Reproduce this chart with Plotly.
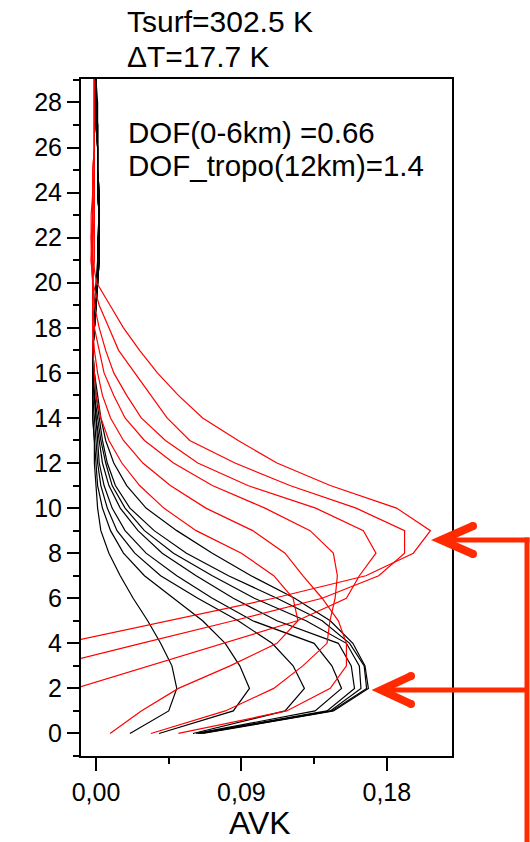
import plotly.graph_objects as go

# ---------------- data ----------------
levels_km = list(range(0, 31))

# black kernels (lower rows)
B1 = [0.021, 0.045, 0.050, 0.047, 0.040, 0.032, 0.023, 0.015, 0.008, 0.003, 0.001, 0.000, -0.001, -0.001, -0.002, -0.002, -0.002, -0.002, -0.001, -0.001, 0.000, 0.001, 0.001, 0.002, 0.002, 0.001, 0.001, 0.001, 0.000, 0.000, 0.000]
B2 = [0.039, 0.085, 0.095, 0.089, 0.080, 0.066, 0.048, 0.030, 0.017, 0.009, 0.004, 0.001, 0.000, -0.001, -0.002, -0.002, -0.002, -0.002, -0.001, 0.000, 0.001, 0.001, 0.002, 0.002, 0.002, 0.001, 0.001, 0.001, 0.001, 0.000, 0.000]
B3 = [0.060, 0.117, 0.129, 0.122, 0.109, 0.088, 0.063, 0.040, 0.024, 0.013, 0.007, 0.003, 0.001, 0.000, -0.001, -0.002, -0.002, -0.002, -0.001, 0.000, 0.001, 0.001, 0.002, 0.002, 0.002, 0.001, 0.001, 0.001, 0.000, 0.000, 0.000]
B4 = [0.062, 0.1356, 0.152, 0.146, 0.135, 0.097, 0.072, 0.050, 0.031, 0.018, 0.010, 0.005, 0.002, 0.001, 0.000, -0.001, -0.002, -0.002, -0.001, 0.000, 0.001, 0.001, 0.002, 0.002, 0.001, 0.001, 0.001, 0.001, 0.000, 0.000, 0.000]
B5 = [0.063, 0.143, 0.160, 0.158, 0.150, 0.112, 0.085, 0.062, 0.041, 0.026, 0.015, 0.008, 0.004, 0.002, 0.000, -0.001, -0.002, -0.002, -0.001, 0.000, 0.001, 0.002, 0.002, 0.002, 0.001, 0.001, 0.001, 0.000, 0.000, 0.000, 0.000]
B6 = [0.064, 0.145, 0.164, 0.163, 0.155, 0.130, 0.098, 0.072, 0.048, 0.030, 0.018, 0.010, 0.006, 0.003, 0.001, -0.001, -0.002, -0.002, -0.001, 0.000, 0.001, 0.002, 0.002, 0.002, 0.001, 0.001, 0.001, 0.000, 0.000, 0.000, 0.000]
B7 = [0.065, 0.146, 0.1675, 0.166, 0.157, 0.140, 0.112, 0.082, 0.056, 0.036, 0.021, 0.012, 0.007, 0.004, 0.002, 0.000, -0.001, -0.002, -0.001, 0.000, 0.001, 0.002, 0.002, 0.002, 0.001, 0.001, 0.001, 0.000, 0.000, 0.000, 0.000]
B8 = [0.066, 0.147, 0.1686, 0.1665, 0.159, 0.145, 0.123, 0.096, 0.072, 0.050, 0.031, 0.019, 0.011, 0.006, 0.003, 0.001, -0.001, -0.002, -0.001, 0.000, 0.001, 0.002, 0.002, 0.002, 0.001, 0.001, 0.001, 0.000, 0.000, 0.000, 0.000]

# red kernels (upper rows)
RA = [-0.200, -0.170, -0.130, -0.085, -0.021, 0.0445, 0.110, 0.167, 0.1964, 0.207, 0.186, 0.145, 0.112, 0.088, 0.066, 0.051, 0.038, 0.027, 0.017, 0.0087, 0.0004, -0.002, -0.003, -0.003, -0.002, -0.002, -0.001, -0.001, -0.001, -0.001, -0.001]
RB = [-0.150, -0.120, -0.080, -0.028, 0.028, 0.085, 0.140, 0.175, 0.191, 0.191, 0.161, 0.120, 0.086, 0.058, 0.044, 0.034, 0.024, 0.014, 0.008, 0.002, -0.002, -0.003, -0.003, -0.002, -0.002, -0.002, -0.001, -0.001, -0.001, -0.001, -0.001]
RC = [-0.090, -0.055, -0.013, 0.033, 0.079, 0.1245, 0.155, 0.163, 0.1733, 0.1655, 0.136, 0.094, 0.063, 0.043, 0.028, 0.019, 0.011, 0.006, 0.002, -0.001, -0.002, -0.003, -0.002, -0.002, -0.002, -0.001, -0.001, -0.001, -0.001, -0.001, -0.001]
RD = [0.034, 0.080, 0.110, 0.128, 0.143, 0.1448, 0.148, 0.1494, 0.1469, 0.1325, 0.1046, 0.072, 0.048, 0.030, 0.018, 0.011, 0.005, 0.002, -0.001, -0.002, -0.002, -0.002, -0.002, -0.002, -0.001, -0.001, -0.001, -0.001, -0.001, -0.001, -0.001]
RE = [0.051, 0.118, 0.145, 0.155, 0.155, 0.150, 0.140, 0.128, 0.117, 0.097, 0.068, 0.046, 0.029, 0.017, 0.009, 0.004, 0.001, -0.001, -0.002, -0.002, -0.002, -0.002, -0.002, -0.001, -0.001, -0.001, -0.001, -0.001, -0.001, -0.001, -0.001]
RF = [0.0087, 0.028, 0.051, 0.083, 0.112, 0.125, 0.122, 0.110, 0.090, 0.062, 0.042, 0.027, 0.016, 0.008, 0.003, 0.000, -0.001, -0.002, -0.002, -0.002, -0.002, -0.001, -0.001, -0.001, -0.001, -0.001, -0.001, -0.001, -0.001, -0.001, -0.001]

black_rows = [B1, B2, B3, B4, B5, B6, B7, B8]
red_rows = [RA, RB, RC, RD, RE, RF]

x_tickvals = [0.0, 0.09, 0.18]
x_ticktext = ["0,00", "0,09", "0,18"]
x_minor_vals = [0.045, 0.135]

info_texts = ["Tsurf=302.5 K", "\u0394T=17.7 K", "DOF(0-6km) =0.66", "DOF_tropo(12km)=1.4"]
x_title = "AVK"

# ---------------- figure ----------------
W, H = 530, 842
ML, MR, MT, MB = 81, 78, 79, 86
PW, PH = W - ML - MR, H - MT - MB
FONT = "Liberation Sans, Arial, sans-serif"
ARROW = "#ff2a00"


def px2paper(px, py):
    return (px - ML) / PW, (H - MB - py) / PH


fig = go.Figure()
for row in black_rows:
    fig.add_trace(go.Scatter(x=row, y=levels_km, mode="lines",
                             line=dict(color="black", width=1.2),
                             showlegend=False, hoverinfo="skip"))
for row in red_rows:
    fig.add_trace(go.Scatter(x=row, y=levels_km, mode="lines",
                             line=dict(color="#ff0000", width=1.2),
                             showlegend=False, hoverinfo="skip"))

fig.update_xaxes(range=[-0.00928, 0.22035], tickvals=x_tickvals, ticktext=x_ticktext,
                 ticks="outside", ticklen=13, tickwidth=2, tickcolor="black",
                 minor=dict(tickvals=x_minor_vals, ticks="outside", ticklen=6,
                            tickwidth=2, tickcolor="black"),
                 showline=True, linewidth=2, linecolor="black", mirror=True,
                 showgrid=False, zeroline=False,
                 tickfont=dict(family=FONT, size=25, color="black"))
fig.update_yaxes(range=[-1, 29.04], tick0=0, dtick=2,
                 ticks="outside", ticklen=12, tickwidth=2, tickcolor="black",
                 minor=dict(tick0=0, dtick=1, ticks="outside", ticklen=6,
                            tickwidth=2, tickcolor="black"),
                 showline=True, linewidth=2, linecolor="black", mirror=True,
                 showgrid=False, zeroline=False,
                 tickfont=dict(family=FONT, size=25, color="black"))

annotations = []
text_pos = [(125, 21, 30), (125, 57, 30), (126, 132, 29.5), (126, 165, 29.5)]
for txt, (px, py, fs) in zip(info_texts, text_pos):
    xp, yp = px2paper(px, py)
    annotations.append(dict(x=xp, y=yp, xref="paper", yref="paper", text=txt,
                            showarrow=False, xanchor="left", yanchor="middle",
                            font=dict(family=FONT, size=fs, color="black")))
xp, yp = px2paper(260, 823)
annotations.append(dict(x=xp, y=yp, xref="paper", yref="paper", text=x_title,
                        showarrow=False, xanchor="center", yanchor="middle",
                        font=dict(family=FONT, size=32, color="black")))

shapes = []


def seg(p1, p2, w):
    x0, y0 = px2paper(*p1)
    x1, y1 = px2paper(*p2)
    shapes.append(dict(type="line", xref="paper", yref="paper", x0=x0, y0=y0,
                       x1=x1, y1=y1, line=dict(color=ARROW, width=w), layer="above"))


def chevron(tip, dx, dy, w):
    pts = [(tip[0] + dx, tip[1] - dy), tip, (tip[0] + dx, tip[1] + dy)]
    pp = [px2paper(*p) for p in pts]
    path = "M {} {} L {} {} L {} {}".format(pp[0][0], pp[0][1], pp[1][0], pp[1][1], pp[2][0], pp[2][1])
    shapes.append(dict(type="path", xref="paper", yref="paper", path=path,
                       line=dict(color=ARROW, width=w), layer="above"))
    for p in (pts[0], pts[2]):
        r = w / 2.0
        x0, y0 = px2paper(p[0] - r, p[1] + r)
        x1, y1 = px2paper(p[0] + r, p[1] - r)
        shapes.append(dict(type="circle", xref="paper", yref="paper", x0=x0, y0=y0,
                           x1=x1, y1=y1, fillcolor=ARROW, line=dict(width=0), layer="above"))


seg((527, 537.5), (527, 845), 5)
seg((529.5, 540), (443, 540), 5)
seg((527, 690), (383, 690), 5)
chevron((441, 540), 32, 14, 8)
chevron((381, 690), 30, 14, 8)

fig.update_layout(width=W, height=H, margin=dict(l=ML, r=MR, t=MT, b=MB),
                  plot_bgcolor="white", paper_bgcolor="white",
                  annotations=annotations, shapes=shapes, showlegend=False)

fig.write_html("out.html", config={"displayModeBar": False},
               post_script="document.body.style.margin='0';document.body.style.padding='0';document.body.style.overflow='hidden';")
